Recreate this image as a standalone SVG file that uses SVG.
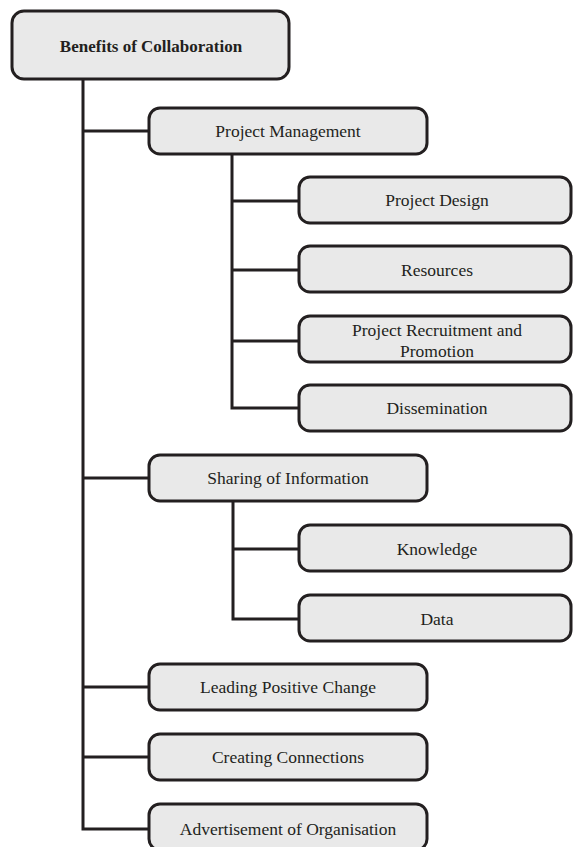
<svg xmlns="http://www.w3.org/2000/svg" width="573" height="847" viewBox="0 0 573 847">
<style>
.box{fill:#e9e9e9;stroke:#231f20;stroke-width:3}
.ln{fill:none;stroke:#231f20;stroke-width:3}
text{font-family:"Liberation Serif","Times New Roman",serif;font-size:17.5px;fill:#231f20;text-anchor:middle}
.b{font-weight:bold;font-size:17px}
</style>
<rect width="573" height="847" fill="#ffffff"/>
<g id="connectors">
<path class="ln" d="M83 79 V829 H149"/>
<path class="ln" d="M83 131 H149 M83 478 H149 M83 687 H149 M83 757 H149"/>
<path class="ln" d="M232 154 V408 H299 M232 201 H299 M232 270 H299 M232 341 H299"/>
<path class="ln" d="M233 501 V619 H299 M233 549 H299"/>
</g>
<g id="root"><rect class="box" x="12" y="11" width="277" height="68" rx="12"/><text class="b" x="151" y="52">Benefits of Collaboration</text></g>
<g id="pm"><rect class="box" x="149" y="108" width="278" height="46" rx="11"/><text x="288" y="137">Project Management</text></g>
<g id="pd"><rect class="box" x="299" y="177" width="272" height="46" rx="11"/><text x="437" y="206">Project Design</text></g>
<g id="res"><rect class="box" x="299" y="246" width="272" height="46" rx="11"/><text x="437" y="276">Resources</text></g>
<g id="prp"><rect class="box" x="299" y="316" width="272" height="46" rx="11"/><text x="437" y="336">Project Recruitment and</text><text x="437" y="357">Promotion</text></g>
<g id="diss"><rect class="box" x="299" y="385" width="272" height="46" rx="11"/><text x="437" y="414">Dissemination</text></g>
<g id="si"><rect class="box" x="149" y="455" width="278" height="46" rx="11"/><text x="288" y="484">Sharing of Information</text></g>
<g id="kn"><rect class="box" x="299" y="525" width="272" height="46" rx="11"/><text x="437" y="555">Knowledge</text></g>
<g id="data"><rect class="box" x="299" y="595" width="272" height="46" rx="11"/><text x="437" y="625">Data</text></g>
<g id="lpc"><rect class="box" x="149" y="664" width="278" height="46" rx="11"/><text x="288" y="693">Leading Positive Change</text></g>
<g id="cc"><rect class="box" x="149" y="734" width="278" height="46" rx="11"/><text x="288" y="763">Creating Connections</text></g>
<g id="adv"><rect class="box" x="149" y="804" width="278" height="46" rx="11"/><text x="288" y="835">Advertisement of Organisation</text></g>
</svg>
